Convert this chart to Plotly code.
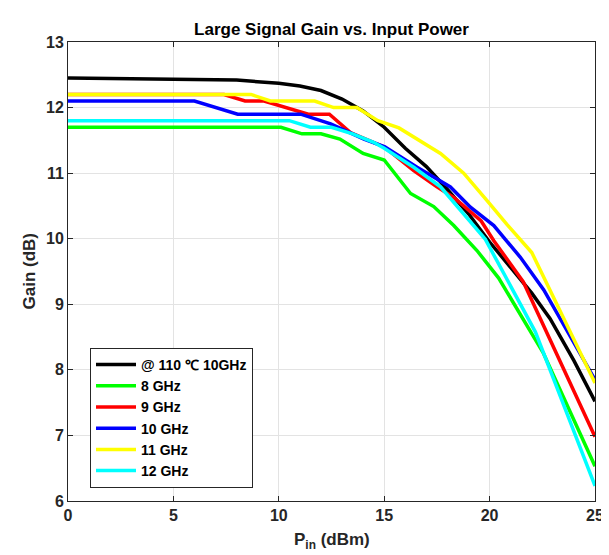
import plotly.graph_objects as go

# ---- data ----
black_x = [0, 4, 8, 10, 11, 12, 13, 14, 15, 16, 17, 18, 19, 20, 21, 22, 22.87, 24, 25]
black_y = [12.45, 12.44, 12.42, 12.37, 12.33, 12.26, 12.13, 11.95, 11.7, 11.38, 11.1, 10.75,
           10.38, 9.95, 9.57, 9.17, 8.78, 8.14, 7.52]

green_x = [0, 10.1, 11.1, 12.0, 12.9, 14.0, 15.0, 16.25, 17.35, 18.3, 19.4, 20.43, 22.56, 25]
green_y = [11.7, 11.7, 11.6, 11.6, 11.52, 11.3, 11.2, 10.69, 10.49, 10.2, 9.82, 9.4, 8.25, 6.53]

red_x = [0, 7.4, 8.4, 9.3, 11.4, 12.4, 13.4, 14.5, 15.0, 16.4, 17.5, 18.3, 19.6, 20.2, 21.6, 25]
red_y = [12.2, 12.2, 12.1, 12.1, 11.9, 11.9, 11.62, 11.47, 11.4, 11.04, 10.79, 10.63, 10.27,
         9.97, 9.34, 6.98]

blue_x = [0, 6.0, 8.05, 11.04, 12.46, 14.04, 15.03, 16.56, 18.14, 19.09, 20.2, 21.45, 22.57, 25]
blue_y = [12.1, 12.1, 11.9, 11.9, 11.75, 11.52, 11.4, 11.09, 10.79, 10.48, 10.2, 9.72, 9.22, 7.85]

yellow_x = [0, 8.68, 9.6, 11.7, 12.6, 13.7, 14.7, 15.7, 17.67, 18.77, 19.88, 20.82, 22.0, 25]
yellow_y = [12.2, 12.2, 12.1, 12.1, 12.0, 12.0, 11.8, 11.69, 11.3, 11.0, 10.58, 10.22, 9.79, 7.8]

cyan_x = [0, 10.5, 11.5, 12.5, 13.5, 14.5, 15.0, 16.4, 17.67, 18.78, 19.8, 22.17, 25]
cyan_y = [11.8, 11.8, 11.7, 11.7, 11.6, 11.47, 11.38, 11.09, 10.79, 10.38, 9.99, 8.58, 6.23]

series_names = ["@ 110 \u2103 10GHz", "8 GHz", "9 GHz", "10 GHz", "11 GHz", "12 GHz"]
series_colors = ["#000000", "#00FF00", "#FF0000", "#0000FF", "#FFFF00", "#00FFFF"]
series_x = [black_x, green_x, red_x, blue_x, yellow_x, cyan_x]
series_y = [black_y, green_y, red_y, blue_y, yellow_y, cyan_y]

x_ticks = [0, 5, 10, 15, 20, 25]
y_ticks = [6, 7, 8, 9, 10, 11, 12, 13]

FONT = "Liberation Sans, Arial, sans-serif"

W, H = 609, 555
L, R, T, B = 60, 22, 34, 62
PW, PH = W - L - R, H - T - B

fig = go.Figure()
for name, xs, ys, c in zip(series_names, series_x, series_y, series_colors):
    fig.add_trace(go.Scatter(x=xs, y=ys, mode="lines", name=name,
                             line=dict(color=c, width=3.5)))

axis_common = dict(
    showgrid=True, gridcolor="#e3e3e3", gridwidth=1,
    showline=True, linecolor="#262626", linewidth=1, mirror="ticks",
    ticks="inside", ticklen=5, tickcolor="#262626",
    tickfont=dict(family=FONT, size=16, color="#262626", weight="bold"),
    zeroline=False, automargin=False,
)

fig.update_layout(
    width=W, height=H,
    margin=dict(l=L, r=R, t=T, b=B),
    paper_bgcolor="white", plot_bgcolor="white",
    font=dict(family=FONT, color="#262626"),
    title=dict(text="Large Signal Gain vs. Input Power", x=0.5, xref="paper", xanchor="center",
               y=1 - 21 / H, yref="container", yanchor="middle",
               font=dict(family=FONT, size=17, color="#000000", weight="bold")),
    xaxis=dict(range=[0, 25], tickvals=x_ticks, **axis_common),
    yaxis=dict(range=[6, 13], tickvals=y_ticks, **axis_common),
    legend=dict(x=(82 - L) / PW, y=(H - B - 340) / PH, xanchor="left", yanchor="top",
                bgcolor="white", bordercolor="#262626", borderwidth=1,
                font=dict(family=FONT, size=14, color="#000000", weight="bold"),
                itemwidth=40, tracegroupgap=0),
    showlegend=True,
    annotations=[
        dict(text="P<sub>in</sub> (dBm)", xref="paper", yref="paper",
             x=(323.5 - L) / PW, y=(H - B - 533) / PH, xanchor="center", yanchor="middle",
             showarrow=False, font=dict(family=FONT, size=17, color="#262626", weight="bold")),
        dict(text="Gain (dB)", xref="paper", yref="paper", textangle=-90,
             x=(21 - L) / PW, y=0.5, xanchor="center", yanchor="middle",
             showarrow=False, font=dict(family=FONT, size=17, color="#262626", weight="bold")),
    ],
)

fig.write_html("out.html")
